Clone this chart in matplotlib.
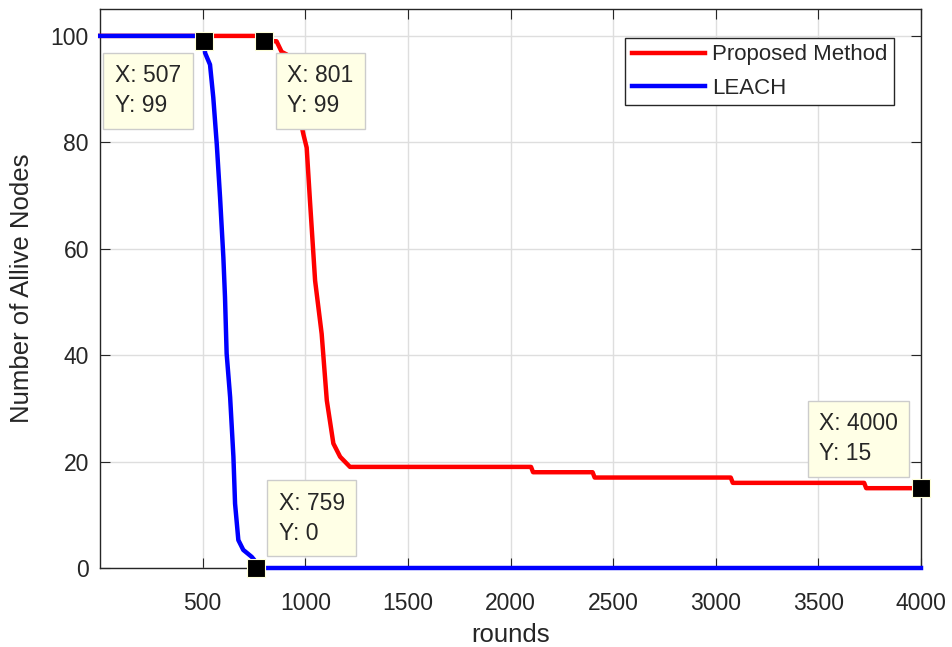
import matplotlib
matplotlib.use("Agg")
import matplotlib.pyplot as plt

# data
proposed_x = [1, 790, 801, 860, 885, 910, 950, 991, 1007, 1023, 1048, 1080, 1105,
              1137, 1170, 1218, 2100, 2110, 2400, 2410, 3073, 3083, 3723, 3733, 4000]
proposed_y = [100, 100, 99, 99, 97, 96.5, 89, 81.5, 79, 69, 54, 44, 31.5,
              23.4, 20.9, 19, 19, 18, 18, 17, 17, 16, 16, 15, 15]

leach_x = [1, 500, 507, 512, 536, 552, 569, 585, 601, 609, 617, 634, 650, 658,
           674, 698, 739, 752, 759, 4000]
leach_y = [100, 100, 99, 96.8, 94.6, 88.4, 79.6, 69.6, 58.4, 50.9, 40.3, 32.1,
           20.9, 12.1, 5.25, 3.4, 2.1, 1.5, 0, 0]

tip_x = [507, 801, 759, 4000]
tip_y = [99, 99, 0, 15]
tip_side = [("right", "top"), ("left", "top"), ("left", "bottom"), ("right", "bottom")]

x_ticks = [500, 1000, 1500, 2000, 2500, 3000, 3500, 4000]
y_ticks = [0, 20, 40, 60, 80, 100]

txt = (0.15, 0.15, 0.15)
plt.rcParams['font.family'] = ['Liberation Sans', 'DejaVu Sans']

fig = plt.figure(figsize=(9.52, 6.47), dpi=100)
ax = fig.add_axes([100 / 952, 79 / 647, 821 / 952, 558.7 / 647])

ax.plot(proposed_x, proposed_y, color='red', linewidth=3.2, label='Proposed Method',
        clip_on=False, zorder=3)
ax.plot(leach_x, leach_y, color='blue', linewidth=3.2, label='LEACH',
        clip_on=False, zorder=3)

ax.set_xlim(0, 4000)
ax.set_ylim(0, 105)
ax.set_xticks(x_ticks)
ax.set_yticks(y_ticks)
ax.grid(color=(0.87, 0.87, 0.87), linewidth=1.0)
ax.set_axisbelow(True)
ax.tick_params(axis='both', direction='in', top=True, right=True, length=7, width=0.8,
               colors=txt, labelsize=16.5)
ax.tick_params(axis='x', pad=17)
ax.tick_params(axis='y', pad=8)
for s in ax.spines.values():
    s.set_color(txt)
    s.set_linewidth(1.0)

ax.set_xlabel('rounds', fontsize=18.5, color=txt, labelpad=6)
ax.set_ylabel('Number of Allive Nodes', fontsize=18.5, color=txt, labelpad=12)

leg = ax.legend(loc='upper right', bbox_to_anchor=(0.967, 0.949), fontsize=16,
                fancybox=False, edgecolor=txt, handlelength=3.3, handletextpad=0.3,
                labelspacing=0.55, borderpad=0.3, borderaxespad=0, framealpha=1)
leg.get_frame().set_linewidth(1.0)
for t in leg.get_texts():
    t.set_color(txt)

# data tips
for x, y, (ha, va) in zip(tip_x, tip_y, tip_side):
    ax.plot(x, y, marker='s', markersize=13.5, color='black',
            markeredgecolor=(1.0, 1.0, 0.85), markeredgewidth=0.8,
            clip_on=False, zorder=6)
    dx = 23 if ha == 'left' else -23
    dy = 23 if va == 'bottom' else -23
    ax.annotate(f"X: {x}\nY: {y}", xy=(x, y), xytext=(dx, dy),
                textcoords='offset pixels', ha=ha, va=va, multialignment='left',
                fontsize=16.5, color=txt, linespacing=1.4, zorder=7,
                annotation_clip=False,
                bbox=dict(boxstyle='square,pad=0.5', fc=(1.0, 1.0, 0.9),
                          ec=(0.8, 0.8, 0.8), lw=1.0))

plt.savefig('out.png', dpi=100)
